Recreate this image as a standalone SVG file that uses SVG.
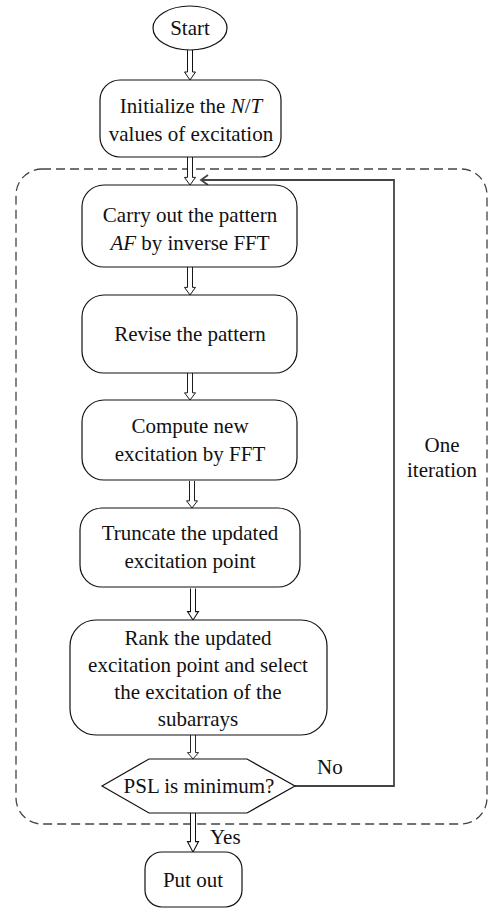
<svg xmlns="http://www.w3.org/2000/svg" width="489" height="913" viewBox="0 0 489 913">
  <style>
    .box { fill: #fff; stroke: #111; stroke-width: 1.2; }
    .lbl { font-family: "Liberation Serif", "Times New Roman", serif; font-size: 21px; fill: #111; text-anchor: middle; }
    .side { font-family: "Liberation Serif", "Times New Roman", serif; font-size: 21px; fill: #111; }
    .flow { fill: #fff; stroke: #111; stroke-width: 1; }
    .loop { fill: none; stroke: #444; stroke-width: 1.8; }
    .frame { fill: none; stroke: #444; stroke-width: 1.3; stroke-dasharray: 9 5; }
  </style>
  <defs>
    <!-- hollow down arrow, 30px long, tip at origin -->
    <path id="harrow" d="M-2.5,-30 L-2.5,-8 L-5.5,-8 L0,0 L5.5,-8 L2.5,-8 L2.5,-30"/>
  </defs>

  <rect width="489" height="913" fill="#fff"/>

  <!-- iteration frame -->
  <rect class="frame" x="16" y="169" width="471" height="655" rx="26" ry="26"/>

  <g id="connectors">
    <use href="#harrow" class="flow" transform="translate(190,80)"/>
    <use href="#harrow" class="flow" transform="translate(190,185) scale(1,0.95)"/>
    <use href="#harrow" class="flow" transform="translate(190,295) scale(1,0.95)"/>
    <use href="#harrow" class="flow" transform="translate(190,400) scale(1,0.9)"/>
    <use href="#harrow" class="flow" transform="translate(192,508) scale(1,0.9)"/>
    <use href="#harrow" class="flow" transform="translate(193,620) scale(1,1.05)"/>
    <use href="#harrow" class="flow" transform="translate(193,759) scale(1,0.8)"/>
    <use href="#harrow" class="flow" transform="translate(193,852) scale(1,1.3)"/>
    <!-- feedback loop back to the top of the iteration -->
    <polyline class="loop" points="295,786 394,786 394,180 201,180"/>
    <polyline class="loop" points="208,175 201,180 208,185"/>
    <text class="side" x="317" y="774">No</text>
    <text class="side" x="210" y="844">Yes</text>
    <text class="lbl" x="442" y="452">One</text>
    <text class="lbl" x="442" y="477">iteration</text>
  </g>

  <g id="start">
    <ellipse class="box" cx="190" cy="28" rx="37" ry="22"/>
    <text class="lbl" x="190" y="35">Start</text>
  </g>

  <g id="init">
    <rect class="box" x="100" y="80" width="181" height="77" rx="20"/>
    <text class="lbl" x="191" y="113">Initialize the <tspan font-style="italic">N</tspan>/<tspan font-style="italic">T</tspan></text>
    <text class="lbl" x="191" y="141">values of excitation</text>
  </g>

  <g id="pattern">
    <rect class="box" x="82" y="185" width="215" height="82" rx="22"/>
    <text class="lbl" x="190" y="222">Carry out the pattern</text>
    <text class="lbl" x="190" y="250"><tspan font-style="italic">AF</tspan> by inverse FFT</text>
  </g>

  <g id="revise">
    <rect class="box" x="82" y="295" width="215" height="78" rx="22"/>
    <text class="lbl" x="190" y="341">Revise the pattern</text>
  </g>

  <g id="compute">
    <rect class="box" x="82" y="400" width="215" height="80" rx="22"/>
    <text class="lbl" x="190" y="433">Compute new</text>
    <text class="lbl" x="190" y="461">excitation by FFT</text>
  </g>

  <g id="truncate">
    <rect class="box" x="80" y="508" width="220" height="79" rx="22"/>
    <text class="lbl" x="190" y="540">Truncate the updated</text>
    <text class="lbl" x="190" y="568">excitation point</text>
  </g>

  <g id="rank">
    <rect class="box" x="70" y="620" width="257" height="115" rx="26"/>
    <text class="lbl" x="198" y="645">Rank the updated</text>
    <text class="lbl" x="198" y="672">excitation point and select</text>
    <text class="lbl" x="198" y="699">the excitation of the</text>
    <text class="lbl" x="198" y="726">subarrays</text>
  </g>

  <g id="decision">
    <polygon class="box" points="102,786 149,759 247,759 295,786 247,813 149,813"/>
    <text class="lbl" x="199" y="793">PSL is minimum?</text>
  </g>

  <g id="output">
    <rect class="box" x="145" y="852" width="97" height="55" rx="17"/>
    <text class="lbl" x="193" y="887">Put out</text>
  </g>
</svg>
